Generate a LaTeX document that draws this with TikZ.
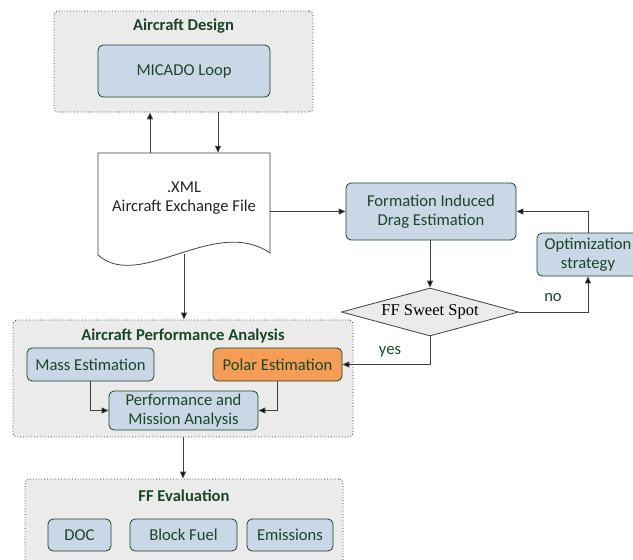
\documentclass[tikz,border=0pt]{standalone}
\usepackage{fontspec}
\setmainfont{Carlito}
\newfontfamily\serifft{Liberation Serif}
\usetikzlibrary{shapes.geometric,arrows.meta}
\definecolor{darkgrn}{HTML}{1B4628}
\definecolor{boxblue}{HTML}{C9D7E6}
\definecolor{panelgray}{HTML}{EBEBEB}
\definecolor{polarorange}{HTML}{F59D56}
\definecolor{linegray}{HTML}{404040}
\tikzset{
  panel/.style={draw=darkgrn, dotted, fill=panelgray, rounded corners=4pt, line width=0.8pt},
  paneltitle/.style={text=darkgrn, font=\fontsize{16.6}{19}\selectfont\bfseries},
  procbox/.style={draw=darkgrn, fill=boxblue, rounded corners=5pt, line width=0.8pt,
    text=darkgrn, font=\fontsize{16.6}{19.5}\selectfont, align=center, inner sep=0pt},
  arr/.style={draw=linegray, line width=1pt, -{Triangle[length=7pt,width=6pt,fill=black]}},
  lbl/.style={text=darkgrn, font=\fontsize{16.6}{19.5}\selectfont}
}
\begin{document}
\begin{tikzpicture}[x=1pt,y=-1pt]
\useasboundingbox (0,0) rectangle (633,560);
\clip (0,0) rectangle (633,560);

% Aircraft design panel
\node[panel, minimum width=259pt, minimum height=101pt] (design) at (183.5,61.5) {};
\node[paneltitle] (designt) at (183.5,26) {Aircraft Design};
\node[procbox, minimum width=172pt, minimum height=52pt] (micado) at (184,71) {MICADO Loop};

% Exchange file (document shape)
\node[minimum width=172pt, minimum height=100pt, inner sep=0pt] (doc) at (184,203) {};
\draw[line width=0.8pt, draw=linegray, fill=white]
  (98,153) -- (270,153) -- (270,253)
  .. controls (215,215) and (140,292) .. (98,255) -- cycle;
\node[lbl, text=black!85, align=center] (doct) at (184,198) {.XML\\Aircraft Exchange File};
\coordinate (docb) at (184,253.5);

% Formation drag loop
\node[procbox, minimum width=170pt, minimum height=57pt] (form) at (431,211.5) {Formation Induced\\Drag Estimation};
\node[draw=linegray, fill=panelgray, shape=diamond, aspect=3.7, inner sep=0pt,
  minimum width=177pt, minimum height=48pt, line width=0.8pt,
  font=\serifft\fontsize{16.5}{19}\selectfont] (sweet) at (430,312) {FF Sweet Spot};
\node[procbox, minimum width=102pt, minimum height=43pt] (opt) at (588,254.5) {Optimization\\strategy};

% Aircraft performance panel
\node[panel, minimum width=340pt, minimum height=117pt] (perf) at (183,378.5) {};
\node[paneltitle] (perft) at (183,336) {Aircraft Performance Analysis};
\node[procbox, minimum width=127pt, minimum height=33pt] (mass) at (90.5,364.5) {Mass Estimation};
\node[procbox, fill=polarorange, minimum width=129pt, minimum height=33pt] (polar) at (277.5,364.5) {Polar Estimation};
\node[procbox, minimum width=149pt, minimum height=39pt] (pma) at (183.5,410.5) {Performance and\\Mission Analysis};

% Evaluation panel
\node[panel, minimum width=318pt, minimum height=101pt] (eval) at (184,529.5) {};
\node[paneltitle] (evalt) at (184,496) {FF Evaluation};
\node[procbox, minimum width=63pt, minimum height=32pt] (doc2) at (79.5,535) {DOC};
\node[procbox, minimum width=107pt, minimum height=32pt] (fuel) at (183.5,535) {Block Fuel};
\node[procbox, minimum width=86pt, minimum height=32pt] (emis) at (290,535) {Emissions};

% Connectors
\draw[arr] (doc.north -| 150,0) -- (design.south -| 150,0);
\draw[arr] (design.south -| 218,0) -- (doc.north -| 218,0);
\draw[arr] (doc.east |- form.west) -- (form.west);
\draw[arr] (docb) -- (perf.north -| docb);
\draw[arr] (form.south -| sweet.north) -- (sweet.north);
\draw[arr] (sweet.east) -| (opt.south);
\node[lbl] (nolbl) at (553,298) {no};
\draw[arr] (opt.north) |- (form.east);
\draw[arr] (sweet.south) |- (polar.east);
\node[lbl] (yeslbl) at (390,352) {yes};
\draw[arr] (mass.south) |- (pma.west);
\draw[arr] (polar.south) |- (pma.east);
\draw[arr] (perf.south) -- (eval.north -| perf.south);
\end{tikzpicture}
\end{document}
